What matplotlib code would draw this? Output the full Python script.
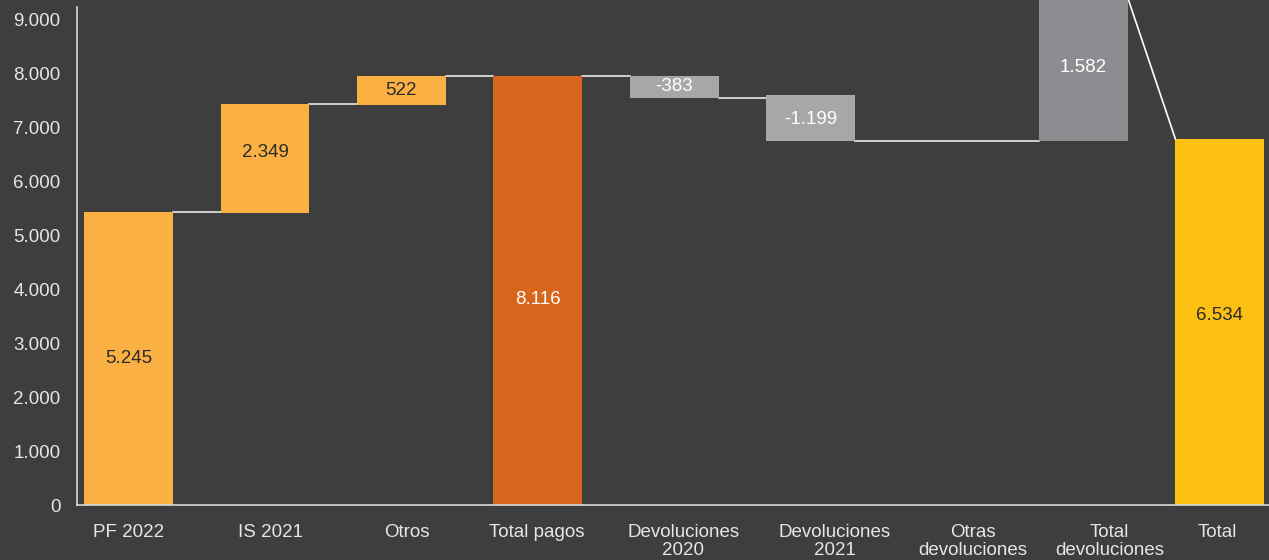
import numpy as np
import matplotlib.pyplot as plt
import matplotlib.transforms as mtransforms
from matplotlib.ticker import FuncFormatter

plt.rcParams['font.family'] = ['Liberation Sans', 'DejaVu Sans']

# categories and labels shown on the bars
categories = ['PF 2022', 'IS 2021', 'Otros', 'Total pagos', 'Devoluciones\n2020',
              'Devoluciones\n2021', 'Otras\ndevoluciones', 'Total\ndevoluciones', 'Total']
values = [5245, 2349, 522, 8116, -383, -1199, 0, 1582, 6534]

# bar extents as drawn in the picture
bar_bottom = [0, 5410, 7420, 0, 7560, 6760, 6770, 6760, 0]
bar_top = [5430, 7440, 7960, 7960, 7960, 7610, 6770, 9400, 6790]

colors = ['#FAB043', '#FAB043', '#FAB043', '#D7651B', '#A6A7A9',
          '#A6A7A9', '#A6A7A9', '#8C8D90', '#FCBF14']
text_colors = ['#2b2b2b', '#2b2b2b', '#2b2b2b', 'white', 'white',
               'white', 'white', 'white', '#2b2b2b']
# small pixel nudges to match the original layout
tick_dx = [0, 6, 5, -1, 9, 24, 26, 26, -3]
label_dy = [0, 6, 0, -9, 0, -2, 0, 3, 7]

bg = '#3e3e3e'
fig = plt.figure(figsize=(12.69, 5.60), dpi=100, facecolor=bg)
ax_w_px = 1269 - 77
ax = fig.add_axes([77 / 1269, 55 / 560, ax_w_px / 1269, 505 / 560])
ax.set_facecolor(bg)

x = np.arange(len(categories))
w = 0.652
ymax = 9370
xlo, xhi = -0.378, 8.36
ax.set_xlim(xlo, xhi)
ax.set_ylim(0, ymax)
px_per_unit = ax_w_px / (xhi - xlo)

heights = np.array(bar_top) - np.array(bar_bottom)
ax.bar(x, heights, bottom=bar_bottom, width=w, color=colors, zorder=2)

# connector lines between bars
for i in range(len(x) - 1):
    if i == 6:
        continue
    if i == 7:
        ax.plot([x[i] + w / 2, x[i + 1] - w / 2], [bar_top[i], bar_top[i + 1]],
                color='white', lw=1.2, zorder=3)
        continue
    level = bar_bottom[i] if values[i] < 0 else bar_top[i]
    j = i + 1 if i != 5 else i + 2
    ax.plot([x[i] + w / 2, x[j] - w / 2], [level, level], color='#e8e8e8', lw=1.2, zorder=1)

# value labels
for i, v in enumerate(values):
    if v == 0:
        continue
    top = min(bar_top[i], ymax)
    yc = (bar_bottom[i] + top) / 2
    lab = f'{v:,}'.replace(',', '.')
    t = ax.text(x[i], yc, lab, ha='center', va='center', color=text_colors[i],
                fontsize=13.5, zorder=4)
    t.set_transform(ax.transData + mtransforms.ScaledTranslation(0, label_dy[i] / 100, fig.dpi_scale_trans))

ax.set_xticks(x + np.array(tick_dx) / px_per_unit)
ax.set_xticklabels(categories, fontsize=13.5, color='#e6e6e6', linespacing=1.05)
ax.set_yticks(np.arange(0, 9001, 1000))
ax.yaxis.set_major_formatter(FuncFormatter(lambda v, p: f'{int(v):,}'.replace(',', '.')))
ax.tick_params(axis='y', labelsize=13.5, colors='#e6e6e6', length=0, pad=12)
ax.tick_params(axis='x', length=0, pad=14)

for s in ['top', 'right']:
    ax.spines[s].set_visible(False)
ax.spines['left'].set_color('#d8d8d8')
ax.spines['bottom'].set_color('#d8d8d8')
ax.spines['left'].set_bounds(0, 9240)
ax.spines['left'].set_linewidth(1.2)
ax.spines['bottom'].set_linewidth(1.2)

fig.savefig('out.png', dpi=100, facecolor=bg)
